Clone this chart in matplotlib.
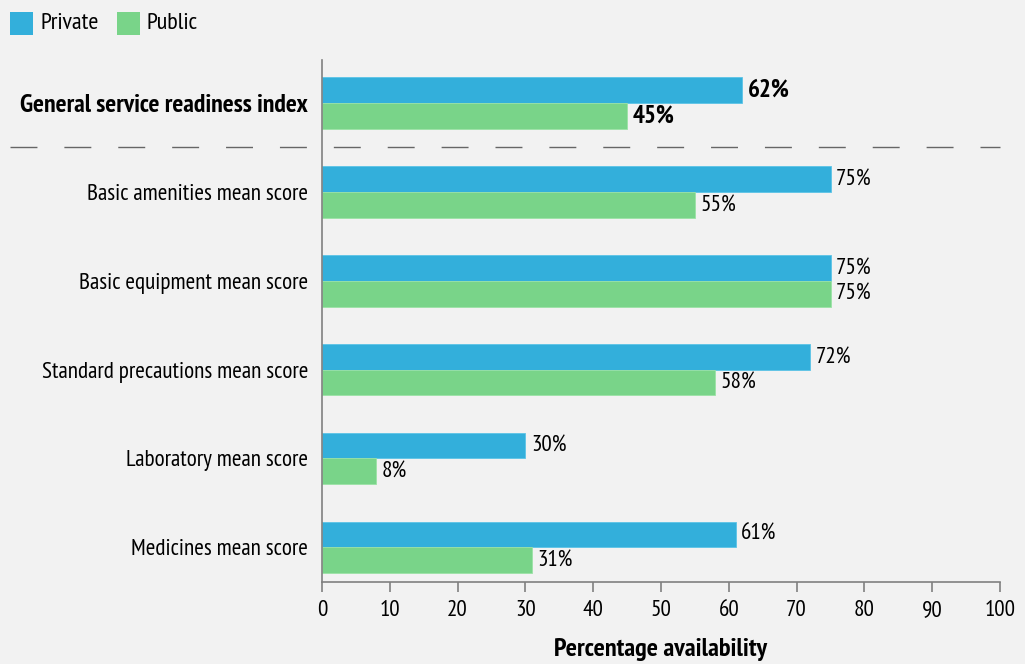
import matplotlib
matplotlib.use("Agg")
import matplotlib.pyplot as plt
from matplotlib import font_manager
from matplotlib.patches import Rectangle
from matplotlib.lines import Line2D

categories = ["General service readiness index", "Basic amenities mean score",
              "Basic equipment mean score", "Standard precautions mean score",
              "Laboratory mean score", "Medicines mean score"]
private = [62, 75, 75, 72, 30, 61]
public = [45, 55, 75, 58, 8, 31]
series_names = ["Private", "Public"]
xticks = [0, 10, 20, 30, 40, 50, 60, 70, 80, 90, 100]

names = {f.name for f in font_manager.fontManager.ttflist}
prefs = ["PT Sans Narrow", "Roboto Condensed", "Fira Sans Condensed", "Open Sans Condensed",
         "Asap Condensed", "Encode Sans Condensed", "Archivo Narrow", "Barlow Semi Condensed",
         "Liberation Sans Narrow", "DejaVu Sans"]
fam = next(p for p in prefs if p in names)
plt.rcParams['font.family'] = [fam, 'DejaVu Sans']

BLUE = "#33afdb"
GREEN = "#79d489"
BG = "#f2f2f2"
GRAY = "#808080"

fig = plt.figure(figsize=(10.25, 6.64), dpi=100, facecolor=BG)
# calibrate font size: "Basic amenities mean score" ~222 px wide in reference
r = fig.canvas.get_renderer()
t = fig.text(0, 0, categories[1], fontsize=14)
w = t.get_window_extent(renderer=r).width
t.remove()
FS = 14 * 222.0 / w

ax = fig.add_axes([322/1025, 1-582/664, (1000-322)/1025, (582-60)/664])
ax.set_facecolor(BG)

h = 0.29
ypos = list(range(len(categories)))
ax.barh([y - h/2 for y in ypos], private, height=h, color=BLUE, edgecolor="#5cc3e6", linewidth=0.6)
ax.barh([y + h/2 for y in ypos], public, height=h, color=GREEN, edgecolor="#9be2a6", linewidth=0.6)

for i, (p, q) in enumerate(zip(private, public)):
    wgt = "bold" if i == 0 else "normal"
    fs = FS * 1.08 if i == 0 else FS
    ax.text(p + 0.8, i - h/2, f"{p}%", va="center", ha="left", fontsize=fs, fontweight=wgt)
    ax.text(q + 0.8, i + h/2, f"{q}%", va="center", ha="left", fontsize=fs, fontweight=wgt)

ax.set_ylim(len(categories) - 1 + 0.39, -0.485)
ax.set_xlim(0, 100)
ax.set_yticks(ypos)
ax.set_yticklabels(categories, fontsize=FS)
lbl0 = ax.get_yticklabels()[0]
lbl0.set_fontweight("bold")
lbl0.set_fontsize(FS * 1.115)
ax.tick_params(axis="y", length=0, pad=10)
ax.set_xticks(xticks)
ax.set_xticklabels([str(t) for t in xticks], fontsize=FS)
ax.tick_params(axis="x", direction="out", length=7, width=1.2, color=GRAY, pad=6)
for s in ["top", "right"]:
    ax.spines[s].set_visible(False)
ax.spines["left"].set_color(GRAY)
ax.spines["bottom"].set_color(GRAY)
ax.spines["left"].set_linewidth(1.2)
ax.spines["bottom"].set_linewidth(1.2)
ax.set_xlabel("Percentage availability", fontsize=FS * 1.14, fontweight="bold", labelpad=12)

# dashed separator across figure
ysep = 1 - 147/664
fig.add_artist(Line2D([10/1025, 1000/1025], [ysep, ysep], transform=fig.transFigure,
                      color="#666666", linewidth=1.0, dashes=(19.4, 19.4)))

# legend
for x0, col, name in [(10, BLUE, series_names[0]), (117, GREEN, series_names[1])]:
    fig.add_artist(Rectangle((x0/1025, 1-35/664), 23/1025, 23/664, transform=fig.transFigure,
                             facecolor=col, edgecolor="none"))
    fig.text((x0+30)/1025, 1-23.5/664, name, fontsize=FS * 1.05, va="center", ha="left")

fig.savefig("out.png", dpi=100, facecolor=BG)
